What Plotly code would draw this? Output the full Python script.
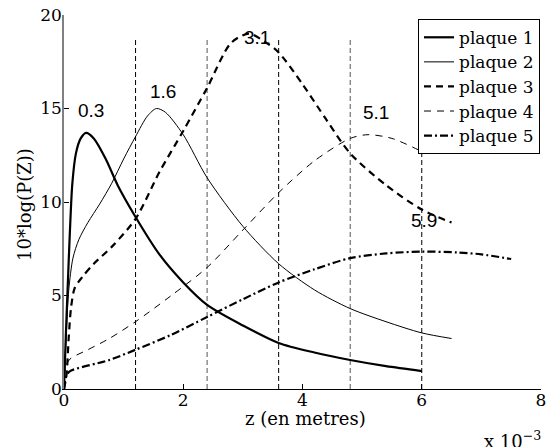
import plotly.graph_objects as go

# x in units of 1e-3 m, y = 10*log(P(Z))
x1 = [0, 0.03, 0.06, 0.1, 0.14, 0.2, 0.28, 0.37, 0.5, 0.7, 0.9, 1.2, 1.6, 2.0, 2.4, 3.0, 3.6, 4.2, 4.8, 5.4, 6.0]
y1 = [0, 2.8, 5.3, 8.5, 11.0, 12.6, 13.4, 13.7, 13.4, 12.3, 10.9, 9.2, 7.2, 5.7, 4.5, 3.4, 2.46, 1.95, 1.55, 1.22, 0.96]

x2 = [0, 0.04, 0.08, 0.15, 0.25, 0.4, 0.6, 0.8, 1.0, 1.2, 1.4, 1.55, 1.7, 2.0, 2.4, 3.0, 3.6, 4.2, 4.8, 5.4, 6.0, 6.5]
y2 = [0, 3.0, 5.3, 7.0, 8.0, 8.9, 9.9, 11.0, 12.3, 13.5, 14.6, 15.0, 14.8, 13.6, 11.3, 8.7, 6.7, 5.3, 4.3, 3.6, 3.0, 2.7]

x3 = [0, 0.04, 0.08, 0.12, 0.18, 0.31, 0.5, 0.8, 1.2, 1.6, 2.0, 2.4, 2.8, 3.1, 3.4, 3.6, 4.0, 4.4, 4.8, 5.4, 6.0, 6.5]
y3 = [0, 0.7, 2.8, 4.4, 5.4, 6.0, 6.7, 7.6, 9.1, 11.6, 13.8, 16.1, 18.5, 19.0, 18.5, 18.0, 16.3, 14.4, 12.6, 10.9, 9.6, 8.9]

x4 = [0, 0.03, 0.1, 0.4, 0.76, 1.2, 1.8, 2.4, 3.0, 3.6, 4.2, 4.8, 5.1, 5.5, 6.0]
y4 = [0, 1.2, 1.6, 2.1, 2.7, 3.6, 5.0, 6.5, 8.5, 10.5, 12.2, 13.4, 13.6, 13.4, 12.7]

x5 = [0, 0.03, 0.09, 0.76, 1.2, 1.8, 2.4, 3.0, 3.6, 4.2, 4.8, 5.4, 6.0, 6.6, 7.0, 7.5]
y5 = [0, 0.6, 0.93, 1.55, 2.1, 2.9, 3.85, 4.8, 5.7, 6.4, 7.0, 7.25, 7.35, 7.3, 7.2, 6.95]

names = ["plaque 1", "plaque 2", "plaque 3", "plaque 4", "plaque 5"]

# plate boundaries (vertical dashed lines)
bound_x = [1.2, 2.4, 3.6, 4.8, 6.0]
bound_top = [18.8, 18.8, 18.8, 18.8, 12.7]
bound_color = ["#000000", "#555555", "#000000", "#555555", "#000000"]

# peak labels
lab_text = ["0.3", "1.6", "3.1", "5.1", "5.9"]
lab_x = [0.46, 1.66, 3.23, 5.24, 6.03]
lab_y = [14.9, 15.9, 18.8, 14.8, 9.0]

SERIF = "DejaVu Serif"
SANS = "Liberation Sans"

fig = go.Figure()

for bx, bt, bc in zip(bound_x, bound_top, bound_color):
    fig.add_trace(go.Scatter(x=[bx, bx], y=[0, bt], mode="lines", showlegend=False,
                             hoverinfo="skip",
                             line=dict(color=bc, width=1, dash="5px,3px")))

styles = [
    dict(color="black", width=2.2, dash="solid"),
    dict(color="black", width=1, dash="solid"),
    dict(color="black", width=2.2, dash="7px,5px"),
    dict(color="black", width=1, dash="7px,6px"),
    dict(color="black", width=2.2, dash="8px,3px,2px,3px"),
]
for xs, ys, nm, st in zip([x1, x2, x3, x4, x5], [y1, y2, y3, y4, y5], names, styles):
    fig.add_trace(go.Scatter(x=xs, y=ys, mode="lines",
                             name="<span style='font-size:17px'>" + nm + "</span>",
                             line=dict(shape="spline", smoothing=0.8, **st)))

for t, lx, ly in zip(lab_text, lab_x, lab_y):
    fig.add_annotation(x=lx, y=ly, text=t, showarrow=False,
                       xanchor="center", yanchor="middle",
                       font=dict(family=SANS, size=19, color="black"))

W, H = 547, 447
L, R, T, B = 64, 6, 15, 58
pw, ph = W - L - R, H - T - B

def px_to_paper(px, py):
    return (px - L) / pw, (H - B - py) / ph

ax, ay = px_to_paper(305, 418)
fig.add_annotation(x=ax, y=ay, xref="paper", yref="paper", text="z (en metres)",
                   showarrow=False, xanchor="center", yanchor="middle",
                   font=dict(family=SERIF, size=18, color="black"))
ax, ay = px_to_paper(24, 205)
fig.add_annotation(x=ax, y=ay, xref="paper", yref="paper", text="10*log(P(Z))",
                   showarrow=False, textangle=-90, xanchor="center", yanchor="middle",
                   font=dict(family=SERIF, size=18, color="black"))
ax, ay = px_to_paper(512, 440)
fig.add_annotation(x=ax, y=ay, xref="paper", yref="paper", text="x 10<sup>−3</sup>",
                   showarrow=False, xanchor="center", yanchor="middle",
                   font=dict(family=SERIF, size=18, color="black"))

lx, ly = px_to_paper(418, 19)
fig.update_layout(
    width=W, height=H,
    margin=dict(l=L, r=R, t=T, b=B, pad=0),
    paper_bgcolor="white", plot_bgcolor="white",
    font=dict(family=SERIF, color="black"),
    showlegend=True,
    legend=dict(x=lx, y=ly, xanchor="left", yanchor="top",
                bgcolor="white", bordercolor="black", borderwidth=1,
                font=dict(family=SERIF, size=16.6, color="black"),
                tracegroupgap=0, itemwidth=30),
    xaxis=dict(range=[0, 8], tickvals=[0, 2, 4, 6, 8], ticks="inside", ticklen=5,
               tickcolor="black", showline=True, linecolor="black", linewidth=1,
               showgrid=False, zeroline=False, mirror=False, automargin=False,
               ticklabelstandoff=-4,
               tickfont=dict(family=SERIF, size=17, color="black")),
    yaxis=dict(range=[0, 20], tickvals=[0, 5, 10, 15, 20], ticks="inside", ticklen=5,
               tickcolor="black", showline=True, linecolor="#808080", linewidth=1.5,
               showgrid=False, zeroline=False, mirror=False, automargin=False,
               ticklabelstandoff=-3,
               tickfont=dict(family=SERIF, size=17, color="black")),
    hovermode=False,
)

fig.write_html("out.html", config={"displayModeBar": False},
               post_script="document.body.style.margin='0';document.body.style.padding='0';document.body.style.overflow='hidden';")
